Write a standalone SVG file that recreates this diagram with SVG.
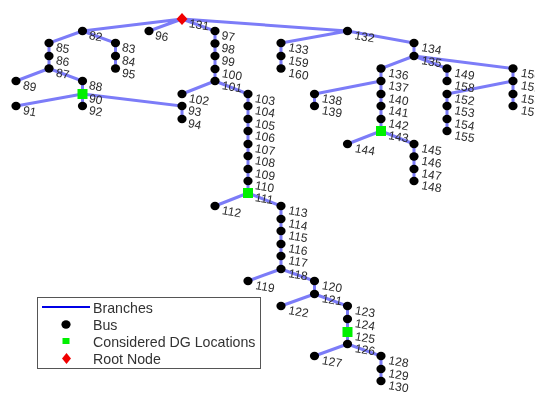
<svg xmlns="http://www.w3.org/2000/svg" width="535" height="394" viewBox="0 0 535 394">
<style>
.e{stroke:#7c7cf8;stroke-width:3;fill:none}
.b{fill:#000}
.g{fill:#00f000}
.r{fill:#f00000}
text{font-family:"Liberation Sans",Arial,sans-serif;fill:#2b2b2b}
.l{font-size:12px}
.k{font-size:14.2px;fill:#333}
</style>
<defs>
<ellipse id="o" class="b" cx="0" cy="0" rx="4.6" ry="4.200"/>
<rect id="s" class="g" x="-5" y="-5" width="10" height="10"/>
<filter id="soft" filterUnits="userSpaceOnUse" x="0" y="0" width="535" height="394"><feGaussianBlur stdDeviation="0.4"/></filter>
</defs>
<rect width="535" height="394" fill="#fff"/>
<g filter="url(#soft)">
<g id="connectors">
<path class="e" d="M182 19L82.5 31M82.5 31L115.5 43V68.5M82.5 31L49 43V68.5M49 68.5L16 81M49 68.5L82.5 81V106M82.5 94L16 106M82.5 94L182 106V119M182 19L149 31M182 19L215 31V81M215 81L182 94M215 81L248 94V193M248 193L215 206M248 193L281 206V269M281 269L248 281M281 269L314.5 281V294M314.5 294L281 306M314.5 294L347.5 306V344M347.5 344L314.5 356M347.5 344L381 356V381"/>
<path class="e" d="M182 19L347.5 31M347.5 31L281 43V68.5M347.5 31L414 43V56M414 56L381 68.5V131M381 81L314.5 94V106M381 131L347.5 144M381 131L414 144V181M414 56L447 68.5V81M414 56L513 68.5V106M513 81L447 94V131"/>
</g>
<g id="buses">
<g id="n82"><use href="#o" x="82.5" y="31"/><text class="l" transform="translate(88.500 39) rotate(10)">82</text></g>
<g id="n83"><use href="#o" x="115.5" y="43"/><text class="l" transform="translate(121.500 51) rotate(10)">83</text></g>
<g id="n84"><use href="#o" x="115.5" y="56"/><text class="l" transform="translate(121.500 64) rotate(10)">84</text></g>
<g id="n95"><use href="#o" x="115.5" y="68.5"/><text class="l" transform="translate(121.500 76.500) rotate(10)">95</text></g>
<g id="n85"><use href="#o" x="49" y="43"/><text class="l" transform="translate(55.500 51) rotate(10)">85</text></g>
<g id="n86"><use href="#o" x="49" y="56"/><text class="l" transform="translate(55.500 64) rotate(10)">86</text></g>
<g id="n87"><use href="#o" x="49" y="68.5"/><text class="l" transform="translate(55.500 76.500) rotate(10)">87</text></g>
<g id="n89"><use href="#o" x="16" y="81"/><text class="l" transform="translate(22.500 89) rotate(10)">89</text></g>
<g id="n88"><use href="#o" x="82.5" y="81"/><text class="l" transform="translate(88.500 89) rotate(10)">88</text></g>
<g id="n90"><use href="#s" x="82.5" y="94"/><text class="l" transform="translate(88.500 102) rotate(10)">90</text></g>
<g id="n91"><use href="#o" x="16" y="106"/><text class="l" transform="translate(22.500 114) rotate(10)">91</text></g>
<g id="n92"><use href="#o" x="82.5" y="106"/><text class="l" transform="translate(88.500 114) rotate(10)">92</text></g>
<g id="n93"><use href="#o" x="182" y="106"/><text class="l" transform="translate(187.500 114) rotate(10)">93</text></g>
<g id="n94"><use href="#o" x="182" y="119"/><text class="l" transform="translate(187.500 127) rotate(10)">94</text></g>
<g id="n96"><use href="#o" x="149" y="31"/><text class="l" transform="translate(154.500 39) rotate(10)">96</text></g>
<g id="n97"><use href="#o" x="215" y="31"/><text class="l" transform="translate(221 39) rotate(10)">97</text></g>
<g id="n98"><use href="#o" x="215" y="43.5"/><text class="l" transform="translate(221 51.500) rotate(10)">98</text></g>
<g id="n99"><use href="#o" x="215" y="56"/><text class="l" transform="translate(221 64) rotate(10)">99</text></g>
<g id="n100"><use href="#o" x="215" y="69"/><text class="l" transform="translate(221.500 77) rotate(10)">100</text></g>
<g id="n101"><use href="#o" x="215" y="81"/><text class="l" transform="translate(221.500 89) rotate(10)">101</text></g>
<g id="n102"><use href="#o" x="182" y="94"/><text class="l" transform="translate(188.500 102) rotate(10)">102</text></g>
<g id="n103"><use href="#o" x="248" y="94"/><text class="l" transform="translate(254.500 102) rotate(10)">103</text></g>
<g id="n104"><use href="#o" x="248" y="106"/><text class="l" transform="translate(254.500 114) rotate(10)">104</text></g>
<g id="n105"><use href="#o" x="248" y="119"/><text class="l" transform="translate(254.500 127) rotate(10)">105</text></g>
<g id="n106"><use href="#o" x="248" y="131"/><text class="l" transform="translate(254.500 139) rotate(10)">106</text></g>
<g id="n107"><use href="#o" x="248" y="144"/><text class="l" transform="translate(254.500 152) rotate(10)">107</text></g>
<g id="n108"><use href="#o" x="248" y="156"/><text class="l" transform="translate(254.500 164) rotate(10)">108</text></g>
<g id="n109"><use href="#o" x="248" y="169"/><text class="l" transform="translate(254.500 177) rotate(10)">109</text></g>
<g id="n110"><use href="#o" x="248" y="181"/><text class="l" transform="translate(254.500 189) rotate(10)">110</text></g>
<g id="n111"><use href="#s" x="248" y="193"/><text class="l" transform="translate(254.500 201) rotate(10)">111</text></g>
<g id="n112"><use href="#o" x="215" y="206"/><text class="l" transform="translate(221.500 214) rotate(10)">112</text></g>
<g id="n113"><use href="#o" x="281" y="206"/><text class="l" transform="translate(288 214) rotate(10)">113</text></g>
<g id="n114"><use href="#o" x="281" y="219"/><text class="l" transform="translate(288 227) rotate(10)">114</text></g>
<g id="n115"><use href="#o" x="281" y="231"/><text class="l" transform="translate(288 239) rotate(10)">115</text></g>
<g id="n116"><use href="#o" x="281" y="244"/><text class="l" transform="translate(288 252) rotate(10)">116</text></g>
<g id="n117"><use href="#o" x="281" y="256"/><text class="l" transform="translate(288 264) rotate(10)">117</text></g>
<g id="n118"><use href="#o" x="281" y="269"/><text class="l" transform="translate(288 277) rotate(10)">118</text></g>
<g id="n119"><use href="#o" x="248" y="281"/><text class="l" transform="translate(255 289) rotate(10)">119</text></g>
<g id="n120"><use href="#o" x="314.5" y="281"/><text class="l" transform="translate(321.500 289) rotate(10)">120</text></g>
<g id="n121"><use href="#o" x="314.5" y="294"/><text class="l" transform="translate(321.500 302) rotate(10)">121</text></g>
<g id="n122"><use href="#o" x="281" y="306"/><text class="l" transform="translate(288 314) rotate(10)">122</text></g>
<g id="n123"><use href="#o" x="347.5" y="306"/><text class="l" transform="translate(354.500 314) rotate(10)">123</text></g>
<g id="n124"><use href="#o" x="347.5" y="319"/><text class="l" transform="translate(354.500 327) rotate(10)">124</text></g>
<g id="n125"><use href="#s" x="347.5" y="332"/><text class="l" transform="translate(354.500 340) rotate(10)">125</text></g>
<g id="n126"><use href="#o" x="347.5" y="344"/><text class="l" transform="translate(354.500 352) rotate(10)">126</text></g>
<g id="n127"><use href="#o" x="314.5" y="356"/><text class="l" transform="translate(321.500 364) rotate(10)">127</text></g>
<g id="n128"><use href="#o" x="381" y="356"/><text class="l" transform="translate(388 364) rotate(10)">128</text></g>
<g id="n129"><use href="#o" x="381" y="369"/><text class="l" transform="translate(388 377) rotate(10)">129</text></g>
<g id="n130"><use href="#o" x="381" y="381"/><text class="l" transform="translate(388 389) rotate(10)">130</text></g>
<g id="n132"><use href="#o" x="347.5" y="31"/><text class="l" transform="translate(354 39) rotate(10)">132</text></g>
<g id="n133"><use href="#o" x="281" y="43"/><text class="l" transform="translate(288 51) rotate(10)">133</text></g>
<g id="n159"><use href="#o" x="281" y="56"/><text class="l" transform="translate(288 64) rotate(10)">159</text></g>
<g id="n160"><use href="#o" x="281" y="68.5"/><text class="l" transform="translate(288 76.500) rotate(10)">160</text></g>
<g id="n134"><use href="#o" x="414" y="43"/><text class="l" transform="translate(421 51) rotate(10)">134</text></g>
<g id="n135"><use href="#o" x="414" y="56"/><text class="l" transform="translate(421 64) rotate(10)">135</text></g>
<g id="n136"><use href="#o" x="381" y="68.5"/><text class="l" transform="translate(388 76.500) rotate(10)">136</text></g>
<g id="n137"><use href="#o" x="381" y="81"/><text class="l" transform="translate(388 89) rotate(10)">137</text></g>
<g id="n140"><use href="#o" x="381" y="94"/><text class="l" transform="translate(388 102) rotate(10)">140</text></g>
<g id="n141"><use href="#o" x="381" y="106"/><text class="l" transform="translate(388 114) rotate(10)">141</text></g>
<g id="n142"><use href="#o" x="381" y="119"/><text class="l" transform="translate(388 127) rotate(10)">142</text></g>
<g id="n143"><use href="#s" x="381" y="131"/><text class="l" transform="translate(388 139) rotate(10)">143</text></g>
<g id="n144"><use href="#o" x="347.5" y="144"/><text class="l" transform="translate(354.500 152) rotate(10)">144</text></g>
<g id="n145"><use href="#o" x="414" y="144"/><text class="l" transform="translate(421 152) rotate(10)">145</text></g>
<g id="n146"><use href="#o" x="414" y="156.5"/><text class="l" transform="translate(421 164.500) rotate(10)">146</text></g>
<g id="n147"><use href="#o" x="414" y="169"/><text class="l" transform="translate(421 177) rotate(10)">147</text></g>
<g id="n148"><use href="#o" x="414" y="181"/><text class="l" transform="translate(421 189) rotate(10)">148</text></g>
<g id="n138"><use href="#o" x="314.5" y="94"/><text class="l" transform="translate(321.500 102) rotate(10)">138</text></g>
<g id="n139"><use href="#o" x="314.5" y="106"/><text class="l" transform="translate(321.500 114) rotate(10)">139</text></g>
<g id="n149"><use href="#o" x="447" y="68.5"/><text class="l" transform="translate(454 76.500) rotate(10)">149</text></g>
<g id="n158"><use href="#o" x="447" y="81"/><text class="l" transform="translate(454 89) rotate(10)">158</text></g>
<g id="n152"><use href="#o" x="447" y="94"/><text class="l" transform="translate(454 102) rotate(10)">152</text></g>
<g id="n153"><use href="#o" x="447" y="106"/><text class="l" transform="translate(454 114) rotate(10)">153</text></g>
<g id="n154"><use href="#o" x="447" y="119"/><text class="l" transform="translate(454 127) rotate(10)">154</text></g>
<g id="n155"><use href="#o" x="447" y="131"/><text class="l" transform="translate(454 139) rotate(10)">155</text></g>
<g id="n150"><use href="#o" x="513" y="68.5"/><text class="l" transform="translate(520.500 76.500) rotate(10)">150</text></g>
<g id="n151"><use href="#o" x="513" y="81"/><text class="l" transform="translate(520.500 89) rotate(10)">151</text></g>
<g id="n156"><use href="#o" x="513" y="94"/><text class="l" transform="translate(520.500 102) rotate(10)">156</text></g>
<g id="n157"><use href="#o" x="513" y="106"/><text class="l" transform="translate(520.500 114) rotate(10)">157</text></g>
<g id="n131"><path class="r" d="M182 13L187.5 19L182 25L176.500 19Z"/><text class="l" transform="translate(188.500 27) rotate(10)">131</text></g>
</g>
<g id="legend">
<rect x="37.500" y="297.500" width="223" height="71" fill="#fff" stroke="#555" stroke-width="1"/>
<line x1="42" y1="307" x2="90" y2="307" stroke="#0000e6" stroke-width="2"/>
<text class="k" x="93" y="313">Branches</text>
<use href="#o" x="66" y="324.500"/>
<text class="k" x="93" y="330">Bus</text>
<rect class="g" x="62.500" y="338" width="7" height="6"/>
<text class="k" x="93" y="347">Considered DG Locations</text>
<path class="r" d="M66.500 353L71 358.500L66.500 364L62 358.500Z"/>
<text class="k" x="93" y="363.500">Root Node</text>
</g>
</g>
</svg>
